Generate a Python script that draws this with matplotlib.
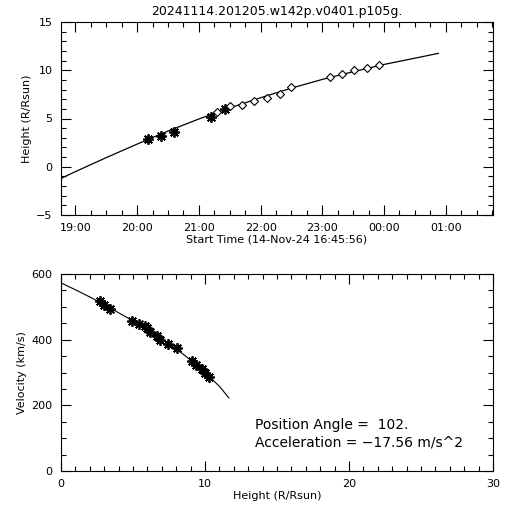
import matplotlib
matplotlib.use('Agg')
import matplotlib.pyplot as plt
from matplotlib.ticker import MultipleLocator, FuncFormatter

DPI = 100

TITLE = '20241114.201205.w142p.v0401.p105g.'

# height-time, times as hours of 14-Nov-24 (values > 24 are next day)
star_times = ['20:11', '20:23', '20:36', '21:12', '21:25']
star_heights = [2.84, 3.19, 3.63, 5.19, 5.95]
diam_times = ['21:18', '21:30', '21:42', '21:54', '22:06', '22:19',
              '22:30', '23:07', '23:19', '23:31', '23:43', '23:55']
diam_heights = [5.64, 6.30, 6.40, 6.84, 7.09, 7.54,
                8.30, 9.27, 9.61, 10.00, 10.23, 10.56]

# fitted height curve
fit_times = [18.77, 19.0, 19.5, 20.0, 20.5, 21.0, 21.5, 22.0,
             22.5, 23.0, 23.5, 24.0, 24.5, 24.88]
fit_heights = [-1.2, -0.5, 0.95, 2.35, 3.7, 4.95, 6.1, 7.15,
               8.15, 9.05, 9.85, 10.6, 11.25, 11.75]

# velocity vs height
vel_heights = [2.73, 3.01, 3.43, 4.94, 5.44, 5.81, 6.00, 6.21, 6.68,
               6.88, 7.41, 8.09, 9.13, 9.36, 9.78, 9.99, 10.31]
vel_values = [518, 506, 493, 457, 449, 441, 435, 423, 411,
              400, 386, 374, 335, 323, 311, 299, 286]
vfit_heights = [0, 1, 2, 3, 4, 5, 6, 7, 8, 9, 10, 11, 11.65]
vfit_values = [573, 552, 530, 507, 482, 457, 430, 402, 372, 338, 300, 258, 223]

position_angle = '102.'
acceleration = '-17.56'

START = 'Start Time (14-Nov-24 16:45:56)'

ASTERISK = dict(ls='none', marker=(8, 2, 0), ms=7.5, mew=1.3, color='black')


def to_hours(s):
    h, m = s.split(':')
    h = int(h)
    if h < 12:
        h += 24
    return h + int(m) / 60.


def style_axis(ax):
    ax.tick_params(which='both', direction='in', top=True, right=True,
                   labelsize=8, width=0.8, pad=6)
    ax.tick_params(which='major', length=7)
    ax.tick_params(which='minor', length=3.5)
    for s in ax.spines.values():
        s.set_linewidth(0.8)


def main():
    plt.rcParams['font.family'] = 'DejaVu Sans'
    fig = plt.figure(figsize=(512 / DPI, 512 / DPI), dpi=DPI)

    # top: height vs time
    ax1 = fig.add_axes([61 / 512, 1 - 215 / 512, 432 / 512, 193 / 512])
    ax1.plot(fit_times, fit_heights, color='black', lw=0.9)
    ax1.plot([to_hours(t) for t in star_times], star_heights, **ASTERISK)
    ax1.plot([to_hours(t) for t in diam_times], diam_heights, ls='none',
             marker='D', ms=4, mew=0.8, mfc='white', mec='black')
    ax1.set_xlim(18 + 45 / 60 + 56 / 3600, 25 + 45 / 60 + 56 / 3600)
    ax1.set_ylim(-5, 15)
    ax1.xaxis.set_major_locator(MultipleLocator(1))
    ax1.xaxis.set_minor_locator(MultipleLocator(0.25))
    ax1.xaxis.set_major_formatter(
        FuncFormatter(lambda v, p: '%02d:00' % (int(round(v)) % 24)))
    ax1.yaxis.set_major_locator(MultipleLocator(5))
    ax1.yaxis.set_minor_locator(MultipleLocator(1))
    style_axis(ax1)
    ax1.set_xlabel(START, fontsize=8, labelpad=1)
    ax1.set_ylabel('Height (R/Rsun)', fontsize=8, labelpad=3)
    fig.text(277 / 512, 1 - 11 / 512, TITLE, ha='center', va='center',
             fontsize=9)

    # bottom: velocity vs height
    ax2 = fig.add_axes([61 / 512, 1 - 471 / 512, 432 / 512, 197 / 512])
    ax2.plot(vfit_heights, vfit_values, color='black', lw=0.8)
    ax2.plot(vel_heights, vel_values, **ASTERISK)
    ax2.set_xlim(0, 30)
    ax2.set_ylim(0, 600)
    ax2.xaxis.set_major_locator(MultipleLocator(10))
    ax2.xaxis.set_minor_locator(MultipleLocator(1))
    ax2.yaxis.set_major_locator(MultipleLocator(200))
    ax2.yaxis.set_minor_locator(MultipleLocator(50))
    style_axis(ax2)
    ax2.set_xlabel('Height (R/Rsun)', fontsize=8, labelpad=1)
    ax2.set_ylabel('Velocity (km/s)', fontsize=8, labelpad=3)
    ax2.text(13.5, 140, 'Position Angle =  ' + position_angle,
             fontsize=10, va='center')
    ax2.text(13.5, 88, 'Acceleration = \u2212' + acceleration[1:] + ' m/s^2',
             fontsize=10, va='center')

    plt.savefig('out.png', dpi=DPI)
    plt.close('all')


if __name__ == '__main__':
    main()
